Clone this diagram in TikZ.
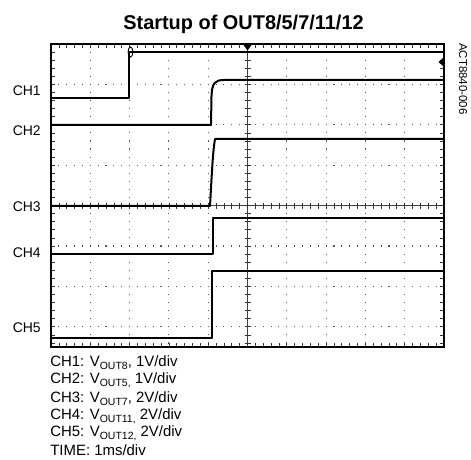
\documentclass[tikz,border=0pt]{standalone}
\usepackage{fontspec}
\setmainfont{Liberation Sans}
\usetikzlibrary{shapes,arrows}

\newcommand{\vsub}[1]{\raisebox{-0.35ex}{\fontsize{10.5}{11}\selectfont #1}}

\begin{document}
\begin{tikzpicture}[x=1bp,y=-1bp,semithick]
\tikzstyle{frame}=[line width=2bp]
\tikzstyle{trace}=[line width=2bp,line join=round]
\tikzstyle{griddot}=[black!65,line width=1.1bp,dash phase=0.55bp]
\tikzstyle{tick}=[line width=0.7bp,black!80]
\tikzstyle{chlabel}=[anchor=east,inner sep=0pt,font=\fontsize{14}{16}\selectfont]
\tikzstyle{legend}=[anchor=west,inner sep=0pt,font=\fontsize{15}{16}\selectfont]
\useasboundingbox (0,0) rectangle (471,460);

% title and figure id
\node[font=\bfseries\fontsize{20}{21}\selectfont] (title) at (243.5,24) {Startup of OUT8/5/7/11/12};
\node[rotate=-90,anchor=west,inner sep=0pt,font=\fontsize{11.5}{12}\selectfont] (figid) at (463,43) {ACT8840-006};

% graticule
\foreach \i in {1,2,3,4,6,7,8,9}
  \draw[griddot,dash pattern=on 1.1bp off 6.98bp] ({51+39.3*\i},44) -- ({51+39.3*\i},347);
\foreach \j in {1,2,3,5,6,7}
  \draw[griddot,dash pattern=on 1.1bp off 6.76bp] (51,{44+40.4*\j}) -- (444,{44+40.4*\j});
\draw[black!75,line width=1bp] (247.5,44) -- (247.5,347);
\draw[black!75,line width=1bp] (51,206) -- (444,206);
\foreach \k in {1,...,49}{
  \draw[tick] ({51+7.86*\k},44) -- +(0,4);
  \draw[tick] ({51+7.86*\k},347) -- +(0,-4);
  \draw[tick] ({51+7.86*\k},203) -- +(0,6);
}
\foreach \k in {1,...,37}{
  \draw[tick] (51,{44+8.08*\k}) -- +(4,0);
  \draw[tick] (444,{44+8.08*\k}) -- +(-4,0);
  \draw[tick] (244.5,{44+8.08*\k}) -- +(6,0);
}

% traces
\draw[trace] (51,98) -- (129,98) -- (129,52) -- (444,52);
\draw[trace] (51,125) -- (211,125) -- (211.5,96) .. controls (212,83) and (215,80) .. (224,80) -- (444,80);
\draw[trace] (51,206) -- (210,206) .. controls (212,170) and (213,150) .. (215,139) -- (444,139);
\draw[trace] (51,254) -- (212.5,254) -- (212.5,218) -- (444,218);
\draw[trace] (51,338) -- (212,338) -- (212,271) -- (444,271);

% markers
\fill (243.5,45) -- (251.5,45) -- (247.5,50.5) -- cycle;
\draw[line width=0.9bp] (130.5,52) ellipse (2.4 and 5);
\fill (438.5,62) -- (443,58) -- (443,66) -- cycle;

% frame
\draw[frame] (51,44) rectangle (444,347);

% channel labels
\node[chlabel] (ch1) at (41,91) {CH1};
\node[chlabel] (ch2) at (41,131) {CH2};
\node[chlabel] (ch3) at (41,206.5) {CH3};
\node[chlabel] (ch4) at (41,253) {CH4};
\node[chlabel] (ch5) at (41,328) {CH5};

% legend
\node[legend] (leg1) at (50,362.5) {CH1: V\vsub{OUT8}, 1V/div};
\node[legend] (leg2) at (50,380.5) {CH2: V\vsub{OUT5,} 1V/div};
\node[legend] (leg3) at (50,398.5) {CH3: V\vsub{OUT7}, 2V/div};
\node[legend] (leg4) at (50,416) {CH4: V\vsub{OUT11,} 2V/div};
\node[legend] (leg5) at (50,433.5) {CH5: V\vsub{OUT12,} 2V/div};
\node[legend] (leg6) at (50,450.5) {TIME: 1ms/div};
\end{tikzpicture}
\end{document}
